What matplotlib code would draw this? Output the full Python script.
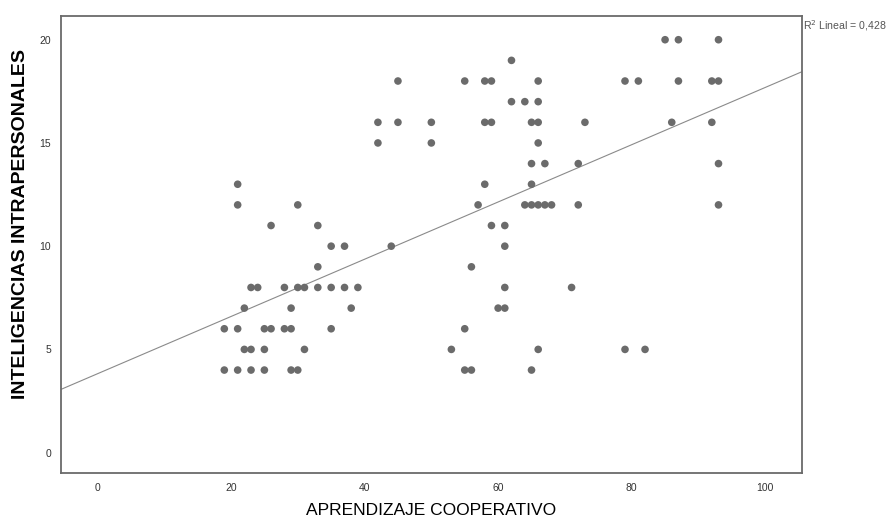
import matplotlib
matplotlib.use('Agg')
import matplotlib.pyplot as plt
import numpy as np

# points grouped by y value (INTELIGENCIAS INTRAPERSONALES) -> x values (APRENDIZAJE COOPERATIVO)
y_levels = [20, 19, 18, 17, 16, 15, 14, 13, 12, 11, 10, 9, 8, 7, 6, 5, 4]
x_by_level = [
    [85, 87, 93],
    [62],
    [45, 55, 58, 59, 66, 79, 81, 87, 92, 93],
    [62, 64, 66],
    [42, 45, 50, 58, 59, 65, 66, 73, 86, 92],
    [42, 50, 66],
    [65, 67, 72, 93],
    [21, 58, 65],
    [21, 30, 57, 64, 65, 66, 67, 68, 72, 93],
    [26, 33, 59, 61],
    [35, 37, 44, 61],
    [33, 56],
    [23, 24, 28, 30, 31, 33, 35, 37, 39, 61, 71],
    [22, 29, 38, 60, 61],
    [19, 21, 25, 26, 28, 29, 35, 55],
    [22, 23, 25, 31, 53, 66, 79, 82],
    [19, 21, 23, 25, 29, 30, 55, 56, 65],
]
x_ticks = [0, 20, 40, 60, 80, 100]
y_ticks = [0, 5, 10, 15, 20]
r2_label = 'R$^2$ Lineal = 0,428'

x = np.array([v for xs in x_by_level for v in xs], dtype=float)
y = np.array([lvl for lvl, xs in zip(y_levels, x_by_level) for _ in xs], dtype=float)

plt.rcParams['font.family'] = ['Liberation Sans', 'DejaVu Sans']

fig = plt.figure(figsize=(8.9, 5.24), dpi=100)
ax = fig.add_axes([0.0682, 0.0968, 0.8329, 0.8727])

xlim = (-5.5, 105.5)
ax.scatter(x, y, s=30, c='#6b6b6b', edgecolors='none', zorder=3)

# linear fit
slope, intercept = np.polyfit(x, y, 1)
xs = np.array(xlim)
ax.plot(xs, intercept + slope * xs, color='#8a8a8a', linewidth=0.8, zorder=2)

ax.set_xlim(*xlim)
ax.set_ylim(-1.0, 21.15)
ax.set_xticks(x_ticks)
ax.set_yticks(y_ticks)
ax.tick_params(length=0, labelsize=7.5, labelcolor='#333333', pad=7)

for s in ax.spines.values():
    s.set_color('#6a6a6a')
    s.set_linewidth(1.3)

ax.set_xlabel('APRENDIZAJE COOPERATIVO', fontsize=12.5, labelpad=7)
ax.set_ylabel('INTELIGENCIAS INTRAPERSONALES', fontsize=14, fontweight='bold')
ax.yaxis.set_label_coords(-0.043, 0.545)

ax.text(1.002, 0.978, r2_label, transform=ax.transAxes, fontsize=7.6,
        color='#555555', ha='left', va='center')

fig.savefig('out.png', dpi=100)
